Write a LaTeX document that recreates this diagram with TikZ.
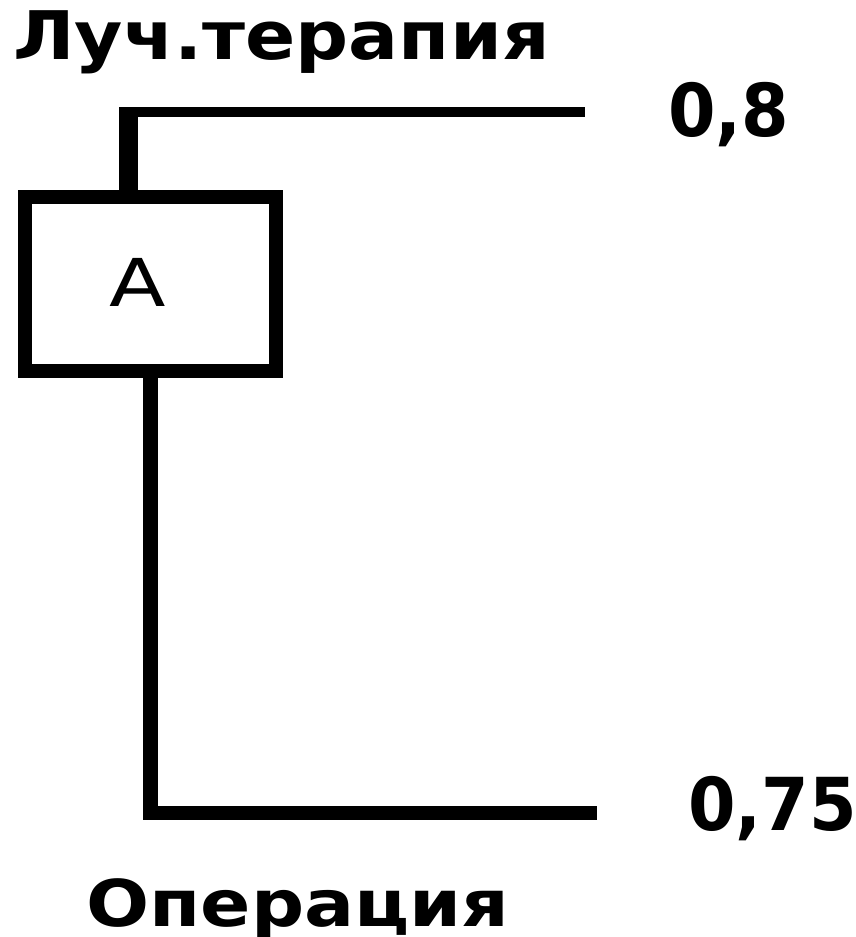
\documentclass[tikz,border=0pt]{standalone}
\usepackage{fontspec}
\setmainfont{DejaVu Sans}
\begin{document}
\begin{tikzpicture}[x=1pt,y=-1pt,
  wire/.style={line cap=butt, line join=miter},
  lbl/.style={inner sep=0pt, font=\bfseries},
  boxst/.style={draw, line width=14pt, minimum width=251.5pt, minimum height=174.5pt, inner sep=0pt}]
\useasboundingbox (0,0) rectangle (856,937);
\clip (0,0) rectangle (856,937);
\node[lbl, anchor=base west] (title) at (13,59) {\fontsize{67}{67}\selectfont\bfseries\scalebox{1.107}[1]{Луч.терапия}};
\node[boxst] (box) at (150.25,283.75) {};
\node[inner sep=0pt, anchor=base] (alabel) at (138,306) {\fontsize{66}{66}\selectfont\scalebox{1.25}[1]{A}};
\coordinate (tv) at (128.5,107);
\coordinate (th) at (119,112);
\coordinate (te) at (585,112);
\coordinate (bv) at (150.5,820);
\coordinate (bh) at (143,813);
\coordinate (be) at (597,813);
\draw[wire, line width=19pt] (box.north -| tv) -- (tv);
\draw[wire, line width=10pt] (th) -- (te);
\draw[wire, line width=15pt] (box.south -| bv) -- (bv);
\draw[wire, line width=14pt] (bh) -- (be);
\node[lbl, anchor=base west] (v1) at (668,136) {\fontsize{73}{73}\selectfont\bfseries\scalebox{0.936}[1]{0,8}};
\node[lbl, anchor=base west] (v2) at (688,830) {\fontsize{73}{73}\selectfont\bfseries\scalebox{0.936}[1]{0,75}};
\node[lbl, anchor=base west] (op) at (86,926) {\fontsize{64.5}{64.5}\selectfont\bfseries\scalebox{1.152}[1]{Операция}};
\end{tikzpicture}
\end{document}
